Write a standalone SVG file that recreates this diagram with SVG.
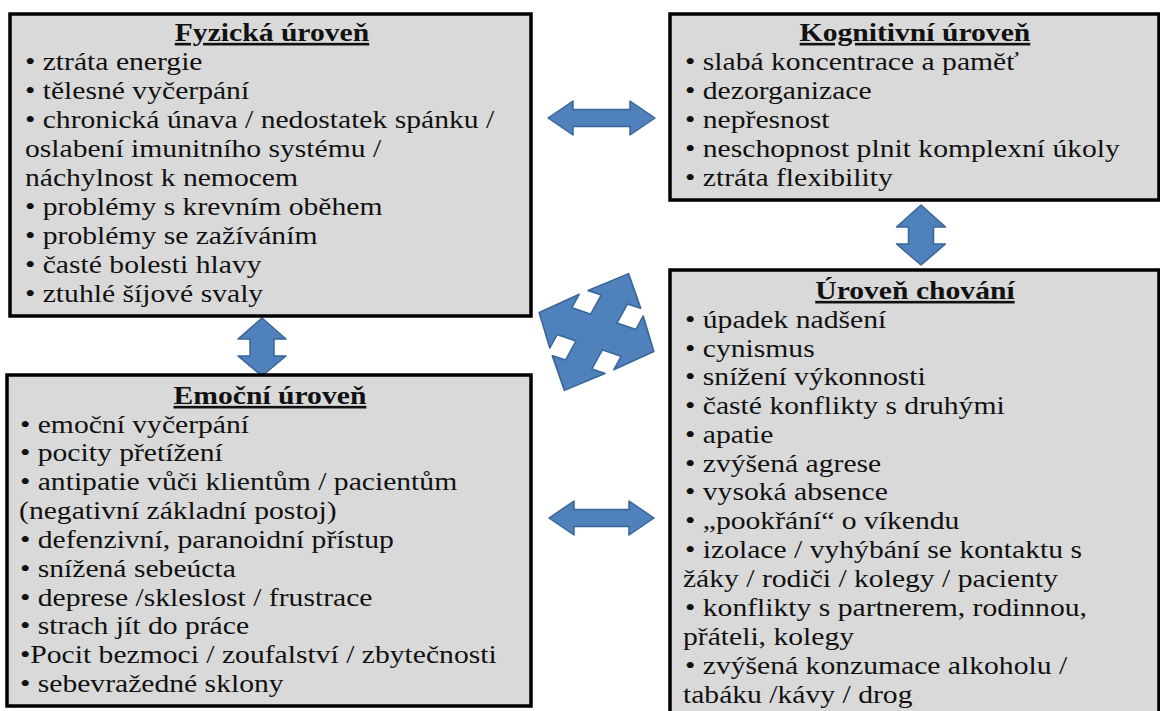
<svg xmlns="http://www.w3.org/2000/svg" width="1160" height="711" viewBox="0 0 1160 711">
<style>
.box{fill:#d9d9d9;stroke:#000;stroke-width:3.5}
.t{font-family:'Liberation Serif','Times New Roman',serif;font-size:26px;fill:#111}
.h{font-weight:bold;text-anchor:middle;text-decoration:underline}
.arr{fill:#4f81bd;stroke:#3a6597;stroke-width:1.5;stroke-linejoin:round}
</style>
<rect width="1160" height="711" fill="#fff"/>
<g id="connectors">
<polygon class="arr" points="548,118 573,101 573,109.5 630,109.5 630,101 655,118 630,135 630,126.5 573,126.5 573,135"/>
<polygon class="arr" points="549,518 574,501 574,509.5 629,509.5 629,501 654,518 629,535 629,526.5 574,526.5 574,535"/>
<polygon class="arr" points="921,205 945.5,227 933.5,227 933.5,244 945.5,244 921,265 896.5,244 908.5,244 908.5,227 896.5,227"/>
<polygon class="arr" points="262,318 286,339 274,339 274,356 286,356 262,376 238,356 250,356 250,339 238,339"/>
<polygon class="arr" transform="matrix(0.94 0.32 -0.525 0.958 596.5 332)" points="-14,-14 -14,-34 -28,-34 0,-61 28,-34 14,-34 14,-14 34,-14 34,-28 61,0 34,28 34,14 14,14 14,34 28,34 0,61 -28,34 -14,34 -14,14 -34,14 -34,28 -61,0 -34,-28 -34,-14"/>
</g>
<g id="fyzicka">
<rect class="box" x="10" y="14" width="521" height="302"/>
<g class="t" transform="scale(1.14 1)">
<text class="h" x="238.6" y="41">Fyzická úroveň</text>
<text x="21.9" y="70">• ztráta energie</text>
<text x="21.9" y="99">• tělesné vyčerpání</text>
<text x="21.9" y="128">• chronická únava / nedostatek spánku /</text>
<text x="21.9" y="157">oslabení imunitního  systému /</text>
<text x="21.9" y="186">náchylnost k nemocem</text>
<text x="21.9" y="215">• problémy s krevním oběhem</text>
<text x="21.9" y="244">• problémy se zažíváním</text>
<text x="21.9" y="273">• časté bolesti hlavy</text>
<text x="21.9" y="302">• ztuhlé šíjové svaly</text>
</g>
</g>
<g id="kognitivni">
<rect class="box" x="670" y="14" width="489" height="186"/>
<g class="t" transform="scale(1.14 1)">
<text class="h" x="802.6" y="41">Kognitivní úroveň</text>
<text x="600.9" y="70">• slabá koncentrace a paměť</text>
<text x="600.9" y="99">• dezorganizace</text>
<text x="600.9" y="128">• nepřesnost</text>
<text x="600.9" y="157">• neschopnost plnit komplexní úkoly</text>
<text x="600.9" y="186">• ztráta flexibility</text>
</g>
</g>
<g id="chovani">
<rect class="box" x="670" y="270" width="489" height="460"/>
<g class="t" transform="scale(1.14 1)">
<text class="h" x="802.6" y="299">Úroveň chování</text>
<text x="600.9" y="328">• úpadek nadšení</text>
<text x="600.9" y="357">• cynismus</text>
<text x="600.9" y="385">• snížení výkonnosti</text>
<text x="600.9" y="414">• časté konflikty  s  druhými</text>
<text x="600.9" y="443">• apatie</text>
<text x="600.9" y="472">• zvýšená agrese</text>
<text x="600.9" y="500">• vysoká absence</text>
<text x="600.9" y="529">• „pookřání“ o víkendu</text>
<text x="600.9" y="558">• izolace / vyhýbání se kontaktu s</text>
<text x="599.1" y="587">žáky / rodiči / kolegy / pacienty</text>
<text x="600.9" y="616">• konflikty  s partnerem, rodinnou,</text>
<text x="599.1" y="645">přáteli, kolegy</text>
<text x="600.9" y="674">• zvýšená konzumace  alkoholu /</text>
<text x="599.1" y="703">tabáku /kávy / drog</text>
</g>
</g>
<g id="emocni">
<rect class="box" x="7" y="375" width="524" height="331"/>
<g class="t" transform="scale(1.14 1)">
<text class="h" x="236.8" y="404">Emoční úroveň</text>
<text x="17.5" y="433">• emoční vyčerpání</text>
<text x="17.5" y="461">• pocity přetížení</text>
<text x="17.5" y="490">• antipatie vůči klientům / pacientům</text>
<text x="16.7" y="519">(negativní základní postoj)</text>
<text x="17.5" y="548">• defenzivní, paranoidní přístup</text>
<text x="17.5" y="577">• snížená sebeúcta</text>
<text x="17.5" y="606">• deprese /skleslost / frustrace</text>
<text x="17.5" y="634">• strach jít do práce</text>
<text x="17.5" y="663">•Pocit bezmoci / zoufalství / zbytečnosti</text>
<text x="17.5" y="692">• sebevražedné sklony</text>
</g>
</g>
</svg>
